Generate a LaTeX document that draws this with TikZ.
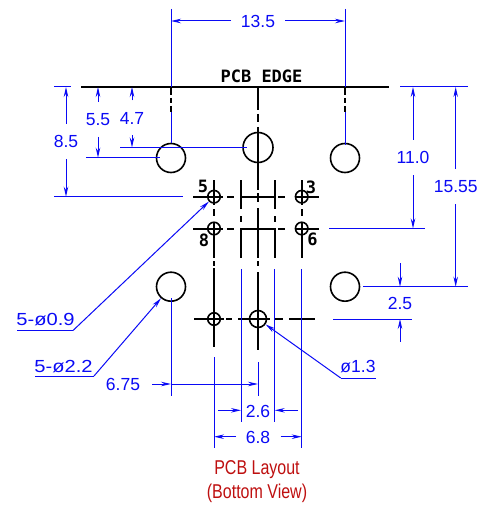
\documentclass[tikz,border=0pt]{standalone}
\usepackage{fontspec}
\setmainfont{Liberation Sans}
\newfontfamily\cadfont{DejaVu Sans Mono}
\usepackage{tikz}
\usetikzlibrary{arrows.meta}

\definecolor{pcbblue}{RGB}{10,10,245}
\definecolor{pcbred}{RGB}{190,15,15}

\begin{document}
\begin{tikzpicture}[x=1pt,y=-1pt,
   line width=2pt,
   hole/.style={draw,circle,inner sep=0pt,line width=1.6pt},
   big hole/.style={hole,minimum size=29pt},
   mid hole/.style={hole,minimum size=17pt},
   small hole/.style={hole,minimum size=12.5pt},
   pin label/.style={font=\cadfont\bfseries\fontsize{17}{20}\selectfont,inner sep=0pt},
   dim label/.style={text=pcbblue,font=\fontsize{17.5}{20}\selectfont,inner sep=0pt},
   dim v/.style={dim label,minimum height=33pt},
   dim h/.style={dim label,minimum width=52pt},
   title label/.style={text=pcbred,font=\fontsize{20}{24}\selectfont,xscale=0.8,inner sep=0pt}]

\tikzstyle {ext} = [pcbblue, line width=1pt];
\tikzstyle {dim} = [-{Stealth[length=10pt,width=4.5pt]}, pcbblue, line width=1pt];

\useasboundingbox (0,0) rectangle (480,505);

\node[big hole] (hl) at (171,158){};
\node[big hole] (hr) at (345,158){};
\node[big hole] (hbl) at (171,286.7){};
\node[big hole] (hbr) at (345,286.7){};
\node[big hole,minimum size=30pt] (htop) at (258,147.5){};
\node[mid hole] (hmid) at (258,319){};
\node[small hole] (h5) at (214,196.7){};
\node[small hole] (h8) at (214,228.5){};
\node[small hole] (h3) at (301.7,196.7){};
\node[small hole] (h6) at (301.7,228.5){};
\node[small hole] (h1) at (214,319){};

\node[pin label] (n5) at (203,186){5};
\node[pin label] (n3) at (311,187){3};
\node[pin label] (n8) at (204,240){8};
\node[pin label] (n6) at (312.5,239){6};
\node[pin label] (edge) at (261.5,76){PCB EDGE};

\node[dim h] (d135) at (258,21){13.5};
\node[dim v] (d55) at (98,119.5){5.5};
\node[dim v] (d47) at (132,118){4.7};
\node[dim v] (d85) at (66,141.5){8.5};
\node[dim v] (d110) at (413,157.5){11.0};
\node[dim v] (d1555) at (455.7,186.5){15.55};
\node[dim label] (d25) at (400,303){2.5};
\node[dim label] (d675) at (123,384){6.75};
\node[dim label] (d26) at (258,411){2.6};
\node[dim label] (d68) at (258,437){6.8};
\node[dim label,xscale=1.15] (p09) at (45.5,320){5-ø0.9};
\node[dim label,xscale=1.15] (p22) at (63.5,366.5){5-ø2.2};
\node[dim label] (p13) at (358,367){ø1.3};

\node[title label] (t1) at (257,470){PCB Layout};
\node[title label] (t2) at (257,493){(Bottom View)};

% board edge and centre lines
\draw (81,87) -- (389,87);
\draw (171,87) -- (171,95) (171,98) -- (171,103) (171,106) -- (171,112);
\draw (345,87) -- (345,95) (345,98) -- (345,103) (345,106) -- (345,112);
\draw (258,87) -- (258,110) (258,114) -- (258,122) (258,127) -- (258,190) (258,193) -- (258,202) (258,208) -- (258,258) (258,261) -- (258,266) (258,272) -- (258,350);
\draw (214,180) -- (214,205) (214,209) -- (214,216) (214,222) -- (214,258) (214,261) -- (214,266) (214,268) -- (214,347);
\draw (301.7,180) -- (301.7,205) (301.7,209) -- (301.7,216) (301.7,222) -- (301.7,258);
\draw (241,180) -- (241,209) (241,216) -- (241,222) (241,228) -- (241,258);
\draw (274.7,180) -- (274.7,209) (274.7,216) -- (274.7,222) (274.7,228) -- (274.7,258);
\draw (193,196.7) -- (223,196.7) (227,196.7) -- (234,196.7) (241,196.7) -- (274.7,196.7) (278,196.7) -- (285,196.7) (295,196.7) -- (319,196.7);
\draw (193,228.5) -- (223,228.5) (227,228.5) -- (234,228.5) (241,228.5) -- (274.7,228.5) (278,228.5) -- (285,228.5) (295,228.5) -- (319,228.5);
\draw (194,319) -- (224,319) (226,319) -- (232,319) (238,319) -- (270,319) (275,319) -- (283,319) (289,319) -- (315,319);

% extension lines
\path[ext] (171,9) edge (171,87) (171,112) edge (171,143);
\path[ext] (345,9) edge (345,87) (345,112) edge (345,145);
\path[ext] (54,87) edge (71,87) (400,87) edge (467.7,87);
\path[ext] (86,157.7) edge (160,157.7) (120,147.5) edge (247,147.5);
\path[ext] (54,196.7) edge (183,196.7) (329,228.5) edge (425,228.5);
\path[ext] (363,286.7) edge (467.7,286.7) (333,319) edge (411.7,319);
\path[ext] (171,298) edge (171,395.7) (258,362) edge (258,395.7);
\path[ext] (214,357) edge (214,448) (301.7,269) edge (301.7,448);
\path[ext] (241,269) edge (241,422) (274.7,269) edge (274.7,422);

% dimensions
\draw[dim] (d135) -- (171,21);
\draw[dim] (d135) -- (345,21);
\draw[dim] (d55) -- (98,87);
\draw[dim] (d55) -- (98,157.7);
\draw[dim] (d47) -- (132,87);
\draw[dim] (d47) -- (132,147.5);
\draw[dim] (d85) -- (66,87);
\draw[dim] (d85) -- (66,196.7);
\draw[dim] (d110) -- (413,87);
\draw[dim] (d110) -- (413,228.5);
\draw[dim] (d1555) -- (455.7,87);
\draw[dim] (d1555) -- (455.7,286.7);
\draw[dim] (400,263) -- (400,286.7);
\draw[dim] (400,341.7) -- (400,319);
\draw[dim] (152,384) -- (171,384);
\draw[dim] (214,384) -- (258,384);
\draw[ext] (171,384) -- (214,384);
\draw[dim] (218,410.3) -- (241,410.3);
\draw[dim] (298,410.3) -- (274.7,410.3);
\draw[dim] (236,436.7) -- (214,436.7);
\draw[dim] (280.7,436.7) -- (301.7,436.7);

% leaders
\draw[ext] (17,330.5) -- (73,330.5);
\draw[dim] (73,330.5) -- (h5);
\draw[ext] (35,376) -- (94,376);
\draw[dim] (94,376) -- (hbl);
\draw[ext] (375.7,378) -- (340.7,378);
\draw[dim] (340.7,378) -- (hmid);

\end{tikzpicture}
\end{document}
